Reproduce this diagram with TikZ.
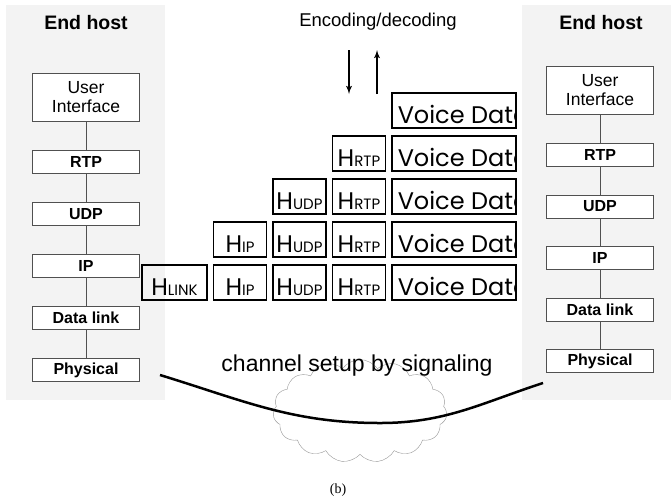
\documentclass[tikz,border=0pt]{standalone}
\usepackage{fontspec}
\setmainfont{Liberation Sans}
\newfontfamily\pktfont{Poppins}
\newfontfamily\capfont{Liberation Serif}
\usepackage{xcolor}
\usetikzlibrary{shapes, shapes.symbols, arrows, backgrounds, positioning}
\definecolor{hostGray}{RGB}{243,243,243}
\definecolor{layerLine}{RGB}{80,80,80}
\definecolor{cloudGray}{RGB}{150,150,150}
\tikzstyle{layer} = [draw=layerLine, fill=white, rectangle, minimum width=107pt, minimum height=23pt, inner sep=0pt, font=\fontsize{16}{16}\selectfont\bfseries]
\tikzstyle{app} = [layer, minimum height=48pt, align=center, font=\fontsize{17.5}{19}\selectfont]
\tikzstyle{title} = [font=\fontsize{19.5}{19.5}\selectfont\bfseries]
\tikzstyle{pkt} = [draw, line width=1.5pt, rectangle, minimum height=35pt, inner sep=0pt, text height=25pt, text depth=0pt, font=\pktfont\fontsize{24}{24}\selectfont]
\tikzstyle{hdr} = [pkt, minimum width=53pt]
% the payload text runs past the right edge and is cut there
\tikzstyle{payload} = [pkt, minimum width=124pt, path picture={\node [anchor=base west, inner sep=0pt, font=\pktfont\fontsize{24}{24}\selectfont] at ([xshift=5pt, yshift=-12.5pt]path picture bounding box.west) {Voice Data};}]
\newcommand{\hsub}[1]{H{\fontsize{15}{15}\selectfont #1}}

\begin{document}
\begin{tikzpicture}[x=1pt, y=-1pt, >=latex']
        \useasboundingbox (0,0) rectangle (671,499);
        % host panels behind everything
        \begin{scope}[on background layer]
            \fill [hostGray] (6,5) rectangle (165,400);
            \fill [hostGray] (522,5) rectangle (671,400);
        \end{scope}

        % left end host stack
        \node [title] (titleL) at (86,23) {End host};
        \node [app] (uiL) at (86,97) {User\\Interface};
        \node [layer, below of=uiL, node distance=65pt] (rtpL) {RTP};
        \node [layer, below of=rtpL, node distance=52pt] (udpL) {UDP};
        \node [layer, below of=udpL, node distance=52pt] (ipL) {IP};
        \node [layer, below of=ipL, node distance=52pt] (linkL) {Data link};
        \node [layer, below of=linkL, node distance=52pt] (phyL) {Physical};

        % right end host stack
        \node [title] (titleR) at (601,23) {End host};
        \node [app] (uiR) at (600,90) {User\\Interface};
        \node [layer, below of=uiR, node distance=65pt] (rtpR) {RTP};
        \node [layer, below of=rtpR, node distance=51.5pt] (udpR) {UDP};
        \node [layer, below of=udpR, node distance=51.5pt] (ipR) {IP};
        \node [layer, below of=ipR, node distance=51.5pt] (linkR) {Data link};
        \node [layer, below of=linkR, node distance=51.5pt] (phyR) {Physical};

        % packets, one row per layer
        \node [payload] (vd1) at (454,110.5) {};
        \node [payload, below of=vd1, node distance=43pt] (vd2) {};
        \node [payload, below of=vd2, node distance=43pt] (vd3) {};
        \node [payload, below of=vd3, node distance=43pt] (vd4) {};
        \node [payload, below of=vd4, node distance=43pt] (vd5) {};
        \node [hdr, left=5pt of vd2] (rtp2) {\hsub{RTP}};
        \node [hdr, left=5pt of vd3] (rtp3) {\hsub{RTP}};
        \node [hdr, left=5pt of rtp3] (udp3) {\hsub{UDP}};
        \node [hdr, left=5pt of vd4] (rtp4) {\hsub{RTP}};
        \node [hdr, left=5pt of rtp4] (udp4) {\hsub{UDP}};
        \node [hdr, left=5pt of udp4] (ip4) {\hsub{IP}};
        \node [hdr, left=5pt of vd5] (rtp5) {\hsub{RTP}};
        \node [hdr, left=5pt of rtp5] (udp5) {\hsub{UDP}};
        \node [hdr, left=5pt of udp5] (ip5) {\hsub{IP}};
        \node [hdr, minimum width=65pt, left=5pt of ip5] (link5) {\hsub{LINK}};

        % encoding arrows
        \node [font=\fontsize{18.5}{18.5}\selectfont] (enc) at (378,22) {Encoding/decoding};
        \coordinate (dnTop) at (349,50);
        \coordinate (dnBot) at (349,94);
        \coordinate (upTop) at (377,50);
        \coordinate (upBot) at (377,94);

        % signaling channel
        \node [cloud, draw=cloudGray, cloud puffs=15, cloud puff arc=110, aspect=1.7, minimum width=174pt, minimum height=103pt] (cloud) at (360,411) {};
        \node [font=\fontsize{23}{23}\selectfont] (chanText) at (357,366) {channel setup by signaling};
        \coordinate (chanL) at (160,375);
        \coordinate (chanBot) at (380,423);
        \coordinate (chanR) at (543,383);
        \node [font=\capfont\fontsize{14}{14}\selectfont] (caption) at (338,490) {(b)};

        % connecting the layers
        \draw [layerLine] (uiL) -- (rtpL) -- (udpL) -- (ipL) -- (linkL) -- (phyL);
        \draw [layerLine] (uiR) -- (rtpR) -- (udpR) -- (ipR) -- (linkR) -- (phyR);
        \draw [->, line width=1.8pt] (dnTop) -- (dnBot);
        \draw [->, line width=1.8pt] (upBot) -- (upTop);
        \draw [line width=2.5pt] (chanL) to[out=-17, in=180] (chanBot) to[out=0, in=-162] (chanR);
    \end{tikzpicture}
\end{document}
